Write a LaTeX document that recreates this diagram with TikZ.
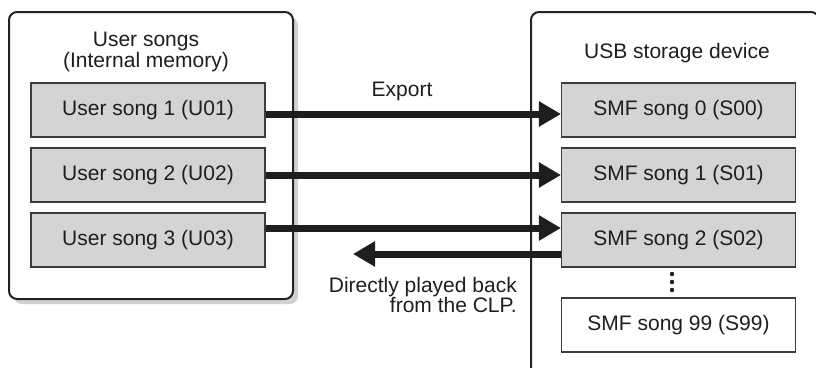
\documentclass[tikz,border=0pt]{standalone}
\usepackage{fontspec}
\setmainfont{Liberation Sans}
\usetikzlibrary{arrows.meta}
\newcommand{\BW}{234}
\newcommand{\BH}{54}
\newcommand{\LX}{148}
\newcommand{\RX}{678.5}
\definecolor{sgfill}{RGB}{212,212,212}
\definecolor{sgline}{RGB}{60,60,60}
\definecolor{pnline}{RGB}{35,35,35}
\definecolor{pnshade}{RGB}{210,210,210}
\definecolor{txt}{RGB}{30,30,30}

\begin{document}
\begin{tikzpicture}[
    x=1pt, y=-1pt,
    >={Triangle[length=22pt,width=24pt]},
    panel/.style={draw=pnline, line width=2pt, rounded corners=8pt},
    song/.style={draw=sgline, fill=sgfill, line width=1.1pt, minimum width=\BW pt,
      minimum height=\BH pt, inner sep=0pt, text=txt},
    xfer/.style={->, draw=txt, line width=7pt},
    tag/.style={text=txt, inner sep=0pt},
    every node/.style={font=\fontsize{21}{20.5}\selectfont},
  ]
  \useasboundingbox (0,0) rectangle (816,367);

  %% ================= left panel: internal memory =================
  \fill[pnshade, rounded corners=8pt] (14,17) rectangle (298,304);
  \fill[white, rounded corners=8pt] (9,12) rectangle (293,299);
  \draw[panel] (9,12) rectangle (293,299);
  \node[tag, align=center] (utitle) at (146,52) {User songs\\(Internal memory)};

  \foreach \i in {1,2,3} {
    \node[song] (u\i) at (\LX,{45+65*\i}) {User song \i\ (U0\i)};
  }

  %% ================= right panel: USB storage (runs off the page) =========
  \draw[panel] (531,12) rectangle (819,380);
  \node[tag] (stitle) at (677,53) {USB storage device};

  \foreach \i in {0,1,2} {
    \node[song] (s\i) at (\RX,{110+65*\i}) {SMF song \i\ (S0\i)};
  }
  \node[song, fill=white] (s99) at (\RX,325) {SMF song 99 (S99)};

  % the list goes on between S02 and S99
  \foreach \d in {-8,0,8} { \fill[txt] (672,{282+\d}) circle (2.2); }

  %% ================= transfers =================
  \draw[xfer] ([yshift=-4pt]u1.east) -- ([yshift=-4pt]s0.west);
  \draw[xfer] (u2.east) -- (s1.west);
  \draw[xfer] ([yshift=12pt]u3.east) -- ([yshift=12pt]s2.west);

  \coordinate (playback) at (353,254);
  \draw[xfer] (s2.west |- playback) -- (playback);

  \node[tag] (export) at (402,91) {Export};
  \node[tag, align=right, anchor=north east] (direct) at (517,277)
    {Directly played back\\from the CLP.};

\end{tikzpicture}
\end{document}
